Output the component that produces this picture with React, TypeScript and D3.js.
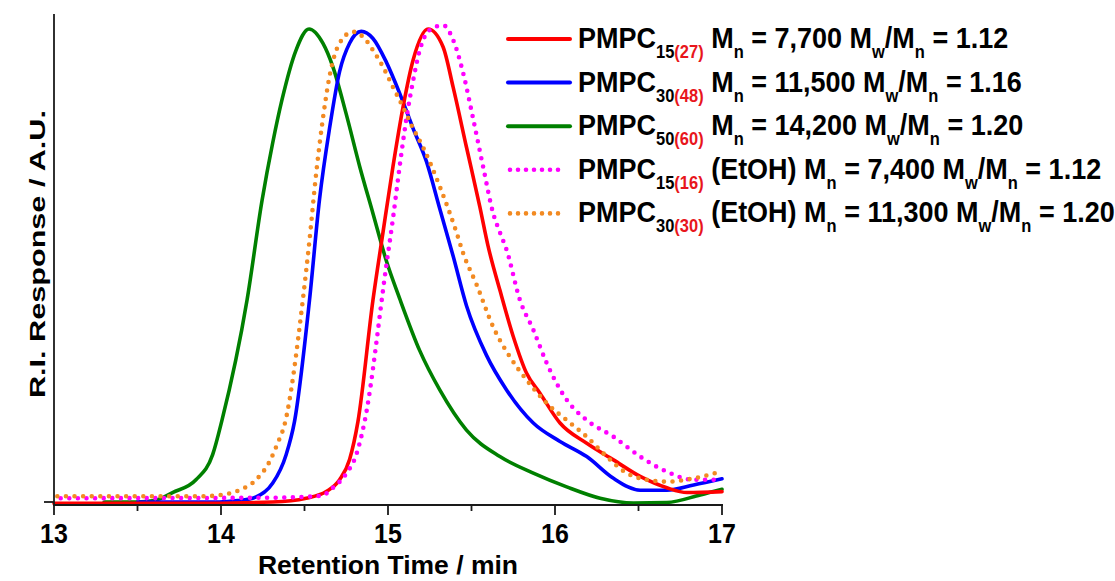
import React from 'react';
import * as d3 from 'd3';

const W = 1115;
const H = 581;

// Retention time (min), normalised R.I. response
const pmpc15_27: [number, number][] = [
  [13.0, -0.003], [13.8, -0.003], [14.31, 0.0], [14.51, 0.008], [14.63, 0.022], [14.71, 0.047],
  [14.77, 0.09], [14.82, 0.17], [14.91, 0.427], [14.97, 0.57], [15.03, 0.71], [15.09, 0.835],
  [15.15, 0.934], [15.24, 1.0], [15.33, 0.962], [15.39, 0.877], [15.47, 0.75], [15.55, 0.624],
  [15.6, 0.54], [15.67, 0.448], [15.75, 0.35], [15.83, 0.272], [15.91, 0.23], [16.03, 0.167],
  [16.19, 0.124], [16.35, 0.089], [16.51, 0.054], [16.67, 0.03], [16.79, 0.02], [17.0, 0.022],
];

const pmpc30_48: [number, number][] = [
  [13.5, 0.0], [13.99, 0.0], [14.1, 0.003], [14.19, 0.008], [14.31, 0.04], [14.39, 0.1],
  [14.44, 0.17], [14.53, 0.427], [14.59, 0.64], [14.65, 0.79], [14.71, 0.91], [14.77, 0.97],
  [14.84, 0.995], [14.91, 0.98], [14.99, 0.93], [15.07, 0.864], [15.15, 0.79], [15.23, 0.72],
  [15.31, 0.62], [15.39, 0.52], [15.47, 0.415], [15.59, 0.31], [15.71, 0.237], [15.87, 0.167],
  [16.03, 0.128], [16.19, 0.096], [16.35, 0.05], [16.51, 0.025], [16.67, 0.025], [16.83, 0.036],
  [17.0, 0.049],
];

const pmpc50_60: [number, number][] = [
  [13.3, 0.0], [13.5, 0.0], [13.6, 0.003], [13.71, 0.02], [13.85, 0.047], [13.95, 0.1],
  [14.006, 0.173], [14.156, 0.427], [14.246, 0.638], [14.31, 0.76], [14.365, 0.85], [14.449, 0.955],
  [14.527, 1.0], [14.61, 0.97], [14.67, 0.92], [14.75, 0.82], [14.83, 0.71], [14.91, 0.61],
  [14.99, 0.51], [15.07, 0.43], [15.19, 0.32], [15.31, 0.237], [15.47, 0.152], [15.67, 0.096],
  [15.87, 0.061], [16.07, 0.032], [16.27, 0.008], [16.47, -0.002], [16.67, -0.001], [16.87, 0.015],
  [17.0, 0.027],
];

const pmpc15_16_etoh: [number, number][] = [
  [13.04, 0.008], [14.3, 0.009], [14.6, 0.013], [14.67, 0.03], [14.75, 0.06], [14.81, 0.1],
  [14.86, 0.17], [14.99, 0.5], [15.03, 0.6], [15.07, 0.71], [15.11, 0.81], [15.15, 0.89],
  [15.19, 0.955], [15.25, 0.998], [15.33, 1.008], [15.39, 0.977], [15.45, 0.907], [15.51, 0.81],
  [15.57, 0.708], [15.63, 0.61], [15.67, 0.57], [15.71, 0.533], [15.79, 0.427], [15.87, 0.364],
  [15.95, 0.294], [16.07, 0.216], [16.19, 0.173], [16.35, 0.138], [16.51, 0.096], [16.67, 0.064],
  [16.83, 0.047], [16.99, 0.047],
];

const pmpc30_30_etoh: [number, number][] = [
  [13.02, 0.012], [13.9, 0.012], [13.95, 0.013], [14.11, 0.025], [14.21, 0.047], [14.29, 0.085],
  [14.34, 0.125], [14.38, 0.163], [14.49, 0.427], [14.53, 0.554], [14.57, 0.695], [14.61, 0.81],
  [14.65, 0.9], [14.71, 0.97], [14.79, 0.994], [14.86, 0.98], [14.91, 0.955], [14.97, 0.92],
  [15.03, 0.877], [15.09, 0.835], [15.15, 0.79], [15.21, 0.75], [15.31, 0.667], [15.41, 0.57],
  [15.45, 0.526], [15.53, 0.46], [15.63, 0.37], [15.73, 0.307], [15.83, 0.258], [15.95, 0.209],
  [16.07, 0.173], [16.19, 0.138], [16.31, 0.096], [16.43, 0.061], [16.55, 0.047], [16.67, 0.043],
  [16.83, 0.05], [16.99, 0.064],
];

const majorTicks = [13, 14, 15, 16, 17];
const minorTicks = [13.5, 14.5, 15.5, 16.5];

const xTitle = 'Retention Time / min';
const yTitle = 'R.I. Response / A.U.';

// legend rows: base subscript, red subscript, solvent tag, Mn, dispersity
const legendSub = ['15', '30', '50', '15', '30'];
const legendRedSub = ['(27)', '(48)', '(60)', '(16)', '(30)'];
const legendTag = ['', '', '', ' (EtOH)', ' (EtOH)'];
const legendMn = ['7,700', '11,500', '14,200', '7,400', '11,300'];
const legendPDI = ['1.12', '1.16', '1.20', '1.12', '1.20'];

const SERIES = [
  { data: pmpc50_60, color: '#008000', dotted: false },
  { data: pmpc30_48, color: '#0000ff', dotted: false },
  { data: pmpc15_27, color: '#ff0000', dotted: false },
  { data: pmpc15_16_etoh, color: '#ff00ff', dotted: true },
  { data: pmpc30_30_etoh, color: '#f28a22', dotted: true },
];
const legendColors = ['#ff0000', '#0000ff', '#008000', '#ff00ff', '#f28a22'];
const legendDotted = [false, false, false, true, true];

const FONT = '"Liberation Sans", Arial, sans-serif';

export default function App() {
  const x = d3.scaleLinear().domain([13, 17]).range([54, 722]);
  const y = d3.scaleLinear().domain([0, 1]).range([502, 29]);
  const line = d3
    .line<[number, number]>()
    .x((d) => x(d[0]))
    .y((d) => y(d[1]))
    .curve(d3.curveMonotoneX);

  const axisY = 505;
  const axisColor = '#1a1a1a';
  const subFs = 16.5;
  const subDy = 9;

  return (
    <svg
      width={W}
      height={H}
      style={{ position: 'absolute', left: 0, top: 0, background: '#fff' }}
      fontFamily={FONT}
    >
      {/* curves */}
      {SERIES.map((s, i) => (
        <path
          key={i}
          d={line(s.data) || ''}
          fill="none"
          stroke={s.color}
          strokeWidth={s.dotted ? 4.6 : 3.6}
          strokeLinecap="round"
          strokeLinejoin="round"
          strokeDasharray={s.dotted ? '0 8.6' : undefined}
        />
      ))}

      {/* y axis */}
      <line x1={54} x2={54} y1={14} y2={axisY} stroke={axisColor} strokeWidth={1.8} />
      <line x1={44} x2={54} y1={y(0)} y2={y(0)} stroke={axisColor} strokeWidth={1.8} />
      {/* x axis */}
      <line x1={53} x2={x(17) + 1} y1={axisY} y2={axisY} stroke={axisColor} strokeWidth={1.8} />
      {majorTicks.map((t) => (
        <g key={'M' + t}>
          <line x1={x(t)} x2={x(t)} y1={axisY} y2={axisY + 10} stroke={axisColor} strokeWidth={1.8} />
          <text
            transform={`translate(${x(t)},543) scale(1,1.12)`}
            textAnchor="middle"
            fontSize={25}
            fontWeight="bold"
            fill="#000"
          >
            {t}
          </text>
        </g>
      ))}
      {minorTicks.map((t) => (
        <line key={'m' + t} x1={x(t)} x2={x(t)} y1={axisY} y2={axisY + 6} stroke={axisColor} strokeWidth={1.8} />
      ))}

      <text x={388} y={574} textAnchor="middle" fontSize={26.5} fontWeight="bold" fill="#000">
        {xTitle}
      </text>
      <text
        transform="translate(45,254) rotate(-90)"
        textAnchor="middle"
        fontSize={22}
        fontWeight="bold"
        fill="#000"
        textLength={288}
        lengthAdjust="spacingAndGlyphs"
      >
        {yTitle}
      </text>

      {/* legend */}
      {legendSub.map((sub, i) => {
        const by = 48 + i * 43.6;
        const ly = by - 9;
        return (
          <g key={'L' + i}>
            <line
              x1={legendDotted[i] ? 510 : 508}
              x2={legendDotted[i] ? 564 : 570}
              y1={ly}
              y2={ly}
              stroke={legendColors[i]}
              strokeWidth={legendDotted[i] ? 4.6 : 4}
              strokeLinecap="round"
              strokeDasharray={legendDotted[i] ? '0 8' : undefined}
            />
            <text transform={`translate(578,${by}) scale(1,1.12)`} fontSize={27} fontWeight="bold" fill="#000">
              <tspan>PMPC</tspan>
              <tspan fontSize={subFs} dy={subDy}>{sub}</tspan>
              <tspan fontSize={subFs} fill="#e8161c">{legendRedSub[i]}</tspan>
              <tspan dy={-subDy}>{legendTag[i] + ' M'}</tspan>
              <tspan fontSize={subFs} dy={subDy}>n</tspan>
              <tspan dy={-subDy}>{' = ' + legendMn[i] + ' M'}</tspan>
              <tspan fontSize={subFs} dy={subDy}>w</tspan>
              <tspan dy={-subDy}>/M</tspan>
              <tspan fontSize={subFs} dy={subDy}>n</tspan>
              <tspan dy={-subDy}>{' = ' + legendPDI[i]}</tspan>
            </text>
          </g>
        );
      })}
    </svg>
  );
}
